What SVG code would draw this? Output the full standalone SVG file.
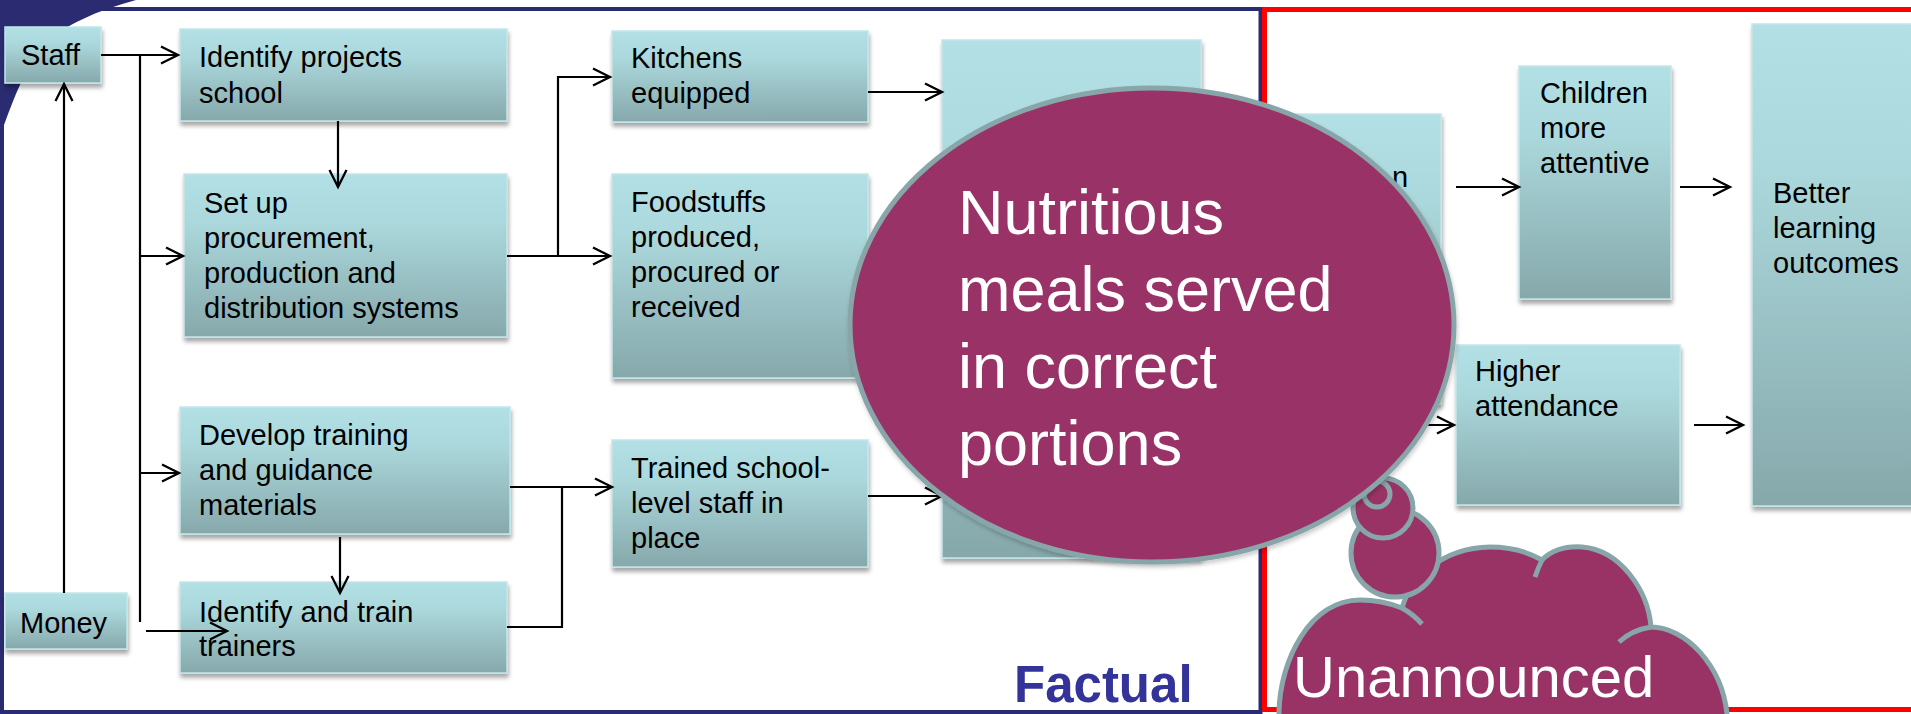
<svg xmlns="http://www.w3.org/2000/svg" width="1911" height="714" viewBox="0 0 1911 714">
  <defs>
    <linearGradient id="boxFill" x1="0" y1="0" x2="0" y2="1">
      <stop offset="0" stop-color="#b2e0e4"/>
      <stop offset="0.3" stop-color="#abd8dc"/>
      <stop offset="1" stop-color="#86a8ab"/>
    </linearGradient>
    <filter id="shadow" x="-10%" y="-10%" width="125%" height="130%">
      <feDropShadow dx="1" dy="4" stdDeviation="2" flood-color="#000" flood-opacity="0.35"/>
    </filter>
    <filter id="softShadow" x="-10%" y="-10%" width="125%" height="130%">
      <feDropShadow dx="1" dy="3" stdDeviation="2" flood-color="#000" flood-opacity="0.2"/>
    </filter>
    <marker id="arrow" markerUnits="userSpaceOnUse" viewBox="0 0 20 20" markerWidth="20" markerHeight="20" refX="18" refY="9.5" orient="auto" overflow="visible">
      <path d="M1 1 L18 9.5 L1 18" fill="none" stroke="#000" stroke-width="2.3" stroke-linejoin="miter"/>
    </marker>
    <style>
      .box { fill: url(#boxFill); stroke: #c2e6e9; stroke-width: 1.5; filter: url(#shadow); }
      .label { font-family: "Liberation Sans", Arial, sans-serif; font-size: 29px; fill: #000; }
      .link { fill: none; stroke: #000; stroke-width: 2.2; }
      .link-arrow { fill: none; stroke: #000; stroke-width: 2.2; marker-end: url(#arrow); }
      .bubble { fill: #993366; stroke: #88a6a9; stroke-width: 5; }
      .bubble-line { fill: none; stroke: #88a6a9; stroke-width: 5; }
      .bubble-text { font-family: "Liberation Sans", Arial, sans-serif; fill: #fff; }
    </style>
  </defs>

  <rect width="1911" height="714" fill="#fff"/>

  <!-- page frame: dark corner swoosh, factual panel and unannounced panel -->
  <g id="frame">
    <path d="M0 0 H136 C100 10 60 25 40 50 C25 70 15 95 4 125 V714 H0 Z" fill="#2b2b72"/>
    <rect x="2" y="9" width="1258.5" height="703" fill="none" stroke="#2b2b72" stroke-width="4"/>
    <rect x="1264.5" y="9.5" width="660" height="700" fill="none" stroke="#ff0000" stroke-width="5"/>
  </g>

  <!-- factual chain -->
  <g id="staff">
    <rect class="box" x="5" y="27" width="96" height="56"/>
    <text class="label" x="21" y="65">Staff</text>
  </g>
  <g id="money">
    <rect class="box" x="5" y="593" width="122" height="56"/>
    <text class="label" x="20" y="633">Money</text>
  </g>
  <g id="identify-projects">
    <rect class="box" x="180" y="29" width="327" height="92"/>
    <text class="label" x="199" y="67">Identify projects</text>
    <text class="label" x="199" y="103">school</text>
  </g>
  <g id="set-up-systems">
    <rect class="box" x="184" y="174" width="323" height="163"/>
    <text class="label" x="204" y="213">Set up</text>
    <text class="label" x="204" y="248">procurement,</text>
    <text class="label" x="204" y="283">production and</text>
    <text class="label" x="204" y="318">distribution systems</text>
  </g>
  <g id="develop-training">
    <rect class="box" x="180" y="407" width="330" height="127"/>
    <text class="label" x="199" y="445">Develop training</text>
    <text class="label" x="199" y="480">and guidance</text>
    <text class="label" x="199" y="515">materials</text>
  </g>
  <g id="train-trainers">
    <rect class="box" x="180" y="582" width="327" height="91"/>
    <text class="label" x="199" y="622">Identify and train</text>
    <text class="label" x="199" y="656">trainers</text>
  </g>
  <g id="kitchens">
    <rect class="box" x="612" y="31" width="256" height="91"/>
    <text class="label" x="631" y="68">Kitchens</text>
    <text class="label" x="631" y="103">equipped</text>
  </g>
  <g id="foodstuffs">
    <rect class="box" x="612" y="174" width="256" height="204"/>
    <text class="label" x="631" y="212">Foodstuffs</text>
    <text class="label" x="631" y="247">produced,</text>
    <text class="label" x="631" y="282">procured or</text>
    <text class="label" x="631" y="317">received</text>
  </g>
  <g id="trained-staff">
    <rect class="box" x="612" y="440" width="256" height="127"/>
    <text class="label" x="631" y="478">Trained school-</text>
    <text class="label" x="631" y="513">level staff in</text>
    <text class="label" x="631" y="548">place</text>
  </g>
  <g id="meals-box">
    <rect class="box" x="942" y="40" width="259" height="518"/>
  </g>
  <text id="factual-title" x="1014" y="702" font-family="'Liberation Sans', Arial, sans-serif" font-size="51" font-weight="bold" fill="#333399">Factual</text>

  <!-- unannounced chain -->
  <g id="outcome-box">
    <rect class="box" x="1282" y="114" width="159" height="290"/>
    <text class="label" x="1392" y="187">n</text>
  </g>
  <g id="children-attentive">
    <rect class="box" x="1519" y="66" width="152" height="233"/>
    <text class="label" x="1540" y="103">Children</text>
    <text class="label" x="1540" y="138">more</text>
    <text class="label" x="1540" y="173">attentive</text>
  </g>
  <g id="higher-attendance">
    <rect class="box" x="1456" y="345" width="224" height="160"/>
    <text class="label" x="1475" y="381">Higher</text>
    <text class="label" x="1475" y="416">attendance</text>
  </g>
  <g id="better-learning">
    <rect class="box" x="1752" y="24" width="170" height="482"/>
    <text class="label" x="1773" y="203">Better</text>
    <text class="label" x="1773" y="238">learning</text>
    <text class="label" x="1773" y="273">outcomes</text>
  </g>

  <!-- connectors -->
  <g id="connectors">
    <path class="link-arrow" d="M101 55 H178"/>
    <path class="link" d="M140 55 V622"/>
    <path class="link-arrow" d="M140 256 H183"/>
    <path class="link-arrow" d="M140 473 H179"/>
    <path class="link-arrow" d="M64 593 V84"/>
    <path class="link-arrow" d="M146 631 H227"/>
    <path class="link-arrow" d="M338 121 V187"/>
    <path class="link-arrow" d="M340 537 V593"/>
    <path class="link-arrow" d="M507 256 H610"/>
    <path class="link-arrow" d="M558 256 V77 H610"/>
    <path class="link-arrow" d="M510 487 H612"/>
    <path class="link" d="M507 627 H562 V487"/>
    <path class="link-arrow" d="M868 92 H942"/>
    <path class="link-arrow" d="M868 496 H942"/>
    <path class="link-arrow" d="M1456 187 H1519"/>
    <path class="link-arrow" d="M1410 425 H1454"/>
    <path class="link-arrow" d="M1680 187 H1730"/>
    <path class="link-arrow" d="M1694 425 H1743"/>
  </g>

  <!-- thought cloud with its trail of bubbles -->
  <g id="unannounced-cloud">
    <path class="bubble" d="M1279 730 L1279 712 C1280 660 1310 600 1360 600 C1378 600 1392 604 1402 608 C1410 580 1440 548 1490 547 C1512 547 1530 553 1542 560 C1552 550 1565 546 1582 547 C1620 550 1648 590 1651 627 C1685 627 1722 665 1727 714 L1727 730 Z"/>
    <path class="bubble-line" d="M1402 608 Q1413 614 1422 624 M1542 560 Q1538 568 1535 577 M1651 627 Q1632 630 1619 642"/>
    <circle class="bubble" cx="1395" cy="553" r="44"/>
    <circle class="bubble" cx="1383" cy="508" r="30"/>
    <circle class="bubble" cx="1377" cy="494" r="13"/>
    <text class="bubble-text" x="1293" y="697" font-size="58">Unannounced</text>
  </g>

  <!-- central outcome oval -->
  <g id="nutritious-meals">
    <ellipse class="bubble" cx="1152" cy="325" rx="302" ry="237" filter="url(#softShadow)"/>
    <text class="bubble-text" font-size="63">
      <tspan x="958" y="234">Nutritious</tspan>
      <tspan x="958" y="311">meals served</tspan>
      <tspan x="958" y="388">in correct</tspan>
      <tspan x="958" y="465">portions</tspan>
    </text>
  </g>
</svg>
